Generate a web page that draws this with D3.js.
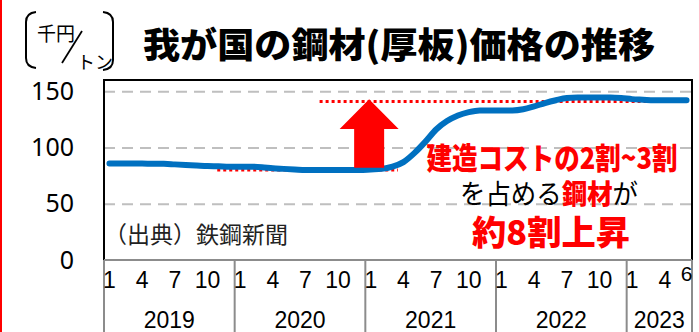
<!DOCTYPE html>
<html>
<head>
<meta charset="utf-8">
<script src="https://cdn.jsdelivr.net/npm/d3@7"></script>
<style>
  body { margin: 0; background: #fff; }
  svg { display: block; }
</style>
</head>
<body>
<svg id="chart"></svg>
<script>
var width = 699;
var height = 332;

// data
var years = ["2019", "2020", "2021", "2022", "2023"];
var monthsInYear = [12, 12, 12, 12, 6];
var monthTicks = [1, 4, 7, 10];
var yTicks = [0, 50, 100, 150];
var price = [
  85.7, 85.7, 85.7, 85.7, 85.5, 85.5, 85, 84.5, 84, 83.5, 83.3, 83,
  83, 83, 82.5, 81.5, 81, 80.5, 80, 80, 80, 80, 80, 80,
  80.5, 81, 83, 87, 95, 105, 116, 123.5, 128.5, 131.5, 133, 133,
  133, 133, 134, 136.5, 139.5, 142, 144, 144.5, 144.5, 144.5, 144.5, 144,
  143, 142.5, 142, 142, 142, 142
];
// red dotted reference levels: [value, from month index, to month index]
var refLines = [[80, 10.4, 27], [141, 19.8, 51.7]];

var months = [];
years.forEach(function (y, i) {
  for (var m = 1; m <= monthsInYear[i]; m++) months.push(y + "-" + m);
});

// plot box (note: "top" is reserved on window)
var pLeft = 104, pRight = 692, pTop = 80, pBottom = 260;

var x = d3.scaleBand().domain(months).range([pLeft, pRight]).padding(0);
var xi = d3.scaleLinear().domain([0, months.length]).range([pLeft, pRight]);
var y = d3.scaleLinear().domain([0, 160]).range([pBottom, pTop]);

var svg = d3.select("#chart").attr("width", width).attr("height", height);

// red edge on the left
svg.append("line").attr("x1", 1).attr("x2", 1).attr("y1", 0).attr("y2", height)
  .style("stroke", "#ff0000").style("stroke-width", 2);

// unit label (千円/トン)
var unit = svg.append("g").style("fill", "none").style("stroke", "#000").style("stroke-width", 2);
unit.append("path").attr("d", "M36,12 Q26,13 26,22 L26,58 Q26,67 36,68");
unit.append("path").attr("d", "M103,12 Q113,13 113,22 L113,60 Q113,69 103,70");
unit.append("line").attr("x1", 62).attr("y1", 63).attr("x2", 82).attr("y2", 31).style("stroke-width", 1.8);
svg.append("text").attr("x", 37).attr("y", 41).text("千円")
  .style("font-family", "Noto Sans CJK JP").style("font-size", "19px");
svg.append("text").attr("x", 77).attr("y", 69).text("トン")
  .style("font-family", "Noto Sans CJK JP").style("font-size", "18px");

// title
svg.append("text").attr("x", 143).attr("y", 58)
  .attr("textLength", 512).attr("lengthAdjust", "spacingAndGlyphs")
  .text("我が国の鋼材(厚板)価格の推移")
  .style("font-family", "Noto Sans CJK JP").style("font-weight", 900)
  .style("font-size", "35px").style("fill", "#000");

// gridlines
var grid = svg.append("g").attr("transform", "translate(" + pLeft + ",0)")
  .call(d3.axisLeft(y).tickValues([50, 100, 150]).tickSize(-(pRight - pLeft)).tickFormat(""));
grid.select(".domain").remove();
grid.selectAll(".tick line").style("stroke", "#bfbfbf").style("stroke-width", 2)
  .style("stroke-dasharray", "11,7");

// y axis labels
var yAxis = svg.append("g").attr("transform", "translate(" + pLeft + ",0)")
  .call(d3.axisLeft(y).tickValues(yTicks).tickSize(0).tickPadding(30));
yAxis.select(".domain").remove();
yAxis.selectAll("text").style("font-family", "Noto Sans").style("font-size", "25px").style("fill", "#000");

// reference dotted lines
svg.selectAll(".ref").data(refLines).enter().append("line")
  .attr("class", "ref")
  .attr("x1", function (d) { return xi(d[1]); })
  .attr("x2", function (d) { return xi(d[2]); })
  .attr("y1", function (d) { return y(d[0]); })
  .attr("y2", function (d) { return y(d[0]); })
  .style("stroke", "#ff0000").style("stroke-width", 3).style("stroke-dasharray", "3,3");

// price line
var line = d3.line()
  .x(function (d, i) { return x(months[i]) + x.bandwidth() / 2; })
  .y(function (d) { return y(d); })
  .curve(d3.curveMonotoneX);
svg.append("path").datum(price).attr("d", line)
  .style("fill", "none").style("stroke", "#0070c0").style("stroke-width", 6)
  .style("stroke-linecap", "round").style("stroke-linejoin", "round");

// big red arrow
var ax = xi(24.35), aTop = y(143), aNeck = y(116.5), aBot = y(82);
svg.append("path")
  .attr("d", "M" + ax + "," + aTop + " L" + (ax + 29.5) + "," + aNeck + " L" + (ax + 15) + "," + aNeck +
    " L" + (ax + 15) + "," + aBot + " L" + (ax - 15) + "," + aBot + " L" + (ax - 15) + "," + aNeck +
    " L" + (ax - 29.5) + "," + aNeck + " Z")
  .style("fill", "#ff0000");

// plot frame
svg.append("path").attr("d", "M" + pLeft + "," + (pBottom + 1) + " V" + pTop + " H" + pRight + " V" + (pBottom + 2))
  .style("fill", "none").style("stroke", "#000").style("stroke-width", 2);

// category axis
svg.append("line").attr("x1", pLeft).attr("x2", pRight).attr("y1", pBottom).attr("y2", pBottom)
  .style("stroke", "#8c8c8c").style("stroke-width", 2);
var starts = [0];
monthsInYear.forEach(function (n, i) { starts.push(starts[i] + n); });
svg.selectAll(".sep").data(starts).enter().append("line")
  .attr("class", "sep")
  .attr("x1", function (d) { return xi(d); }).attr("x2", function (d) { return xi(d); })
  .attr("y1", pBottom).attr("y2", height)
  .style("stroke", "#8c8c8c").style("stroke-width", 2);

var tickMonths = months.filter(function (m) {
  return monthTicks.indexOf(+m.split("-")[1]) >= 0;
});
tickMonths.push(months[months.length - 1]);
var xAxis = svg.append("g").attr("transform", "translate(0," + pBottom + ")")
  .call(d3.axisBottom(x).tickValues(tickMonths).tickSize(0).tickPadding(12)
    .tickFormat(function (d) { return d.split("-")[1]; }));
xAxis.select(".domain").remove();
xAxis.selectAll("text").style("font-family", "Liberation Sans").style("font-size", "23px").style("fill", "#000")
  .attr("dy", "0.71em");
xAxis.selectAll(".tick").filter(function (d) { return d === months[months.length - 1]; })
  .select("text").attr("y", 6).style("font-size", "21px");

svg.selectAll(".year").data(years).enter().append("text")
  .attr("class", "year")
  .attr("x", function (d, i) { return (xi(starts[i]) + xi(starts[i + 1])) / 2; })
  .attr("y", 328)
  .attr("text-anchor", "middle")
  .text(function (d) { return d; })
  .style("font-family", "Liberation Sans").style("font-size", "23px").style("fill", "#000");

// source
svg.append("text").attr("x", 104).attr("y", 243).text("（出典）鉄鋼新聞")
  .style("font-family", "Noto Sans CJK JP").style("font-size", "23px").style("fill", "#222");

// annotation
var cjk = "Noto Sans CJK JP";
svg.append("text").attr("x", 552).attr("y", 169).attr("text-anchor", "middle")
  .attr("textLength", 251).attr("lengthAdjust", "spacingAndGlyphs")
  .text("建造コストの2割~3割")
  .style("font-family", cjk).style("font-weight", 900).style("font-size", "30px").style("fill", "#ff0000");
var t2 = svg.append("text").attr("x", 549).attr("y", 204).attr("text-anchor", "middle")
  .attr("textLength", 178).attr("lengthAdjust", "spacingAndGlyphs")
  .style("font-family", cjk).style("font-size", "27px").style("fill", "#000");
t2.append("tspan").text("を占める");
t2.append("tspan").text("鋼材").style("fill", "#ff0000").style("font-weight", 900);
t2.append("tspan").text("が");
svg.append("text").attr("x", 551).attr("y", 245).attr("text-anchor", "middle")
  .attr("textLength", 158).attr("lengthAdjust", "spacingAndGlyphs")
  .text("約8割上昇")
  .style("font-family", cjk).style("font-weight", 900).style("font-size", "34px").style("fill", "#ff0000");
</script>
</body>
</html>
